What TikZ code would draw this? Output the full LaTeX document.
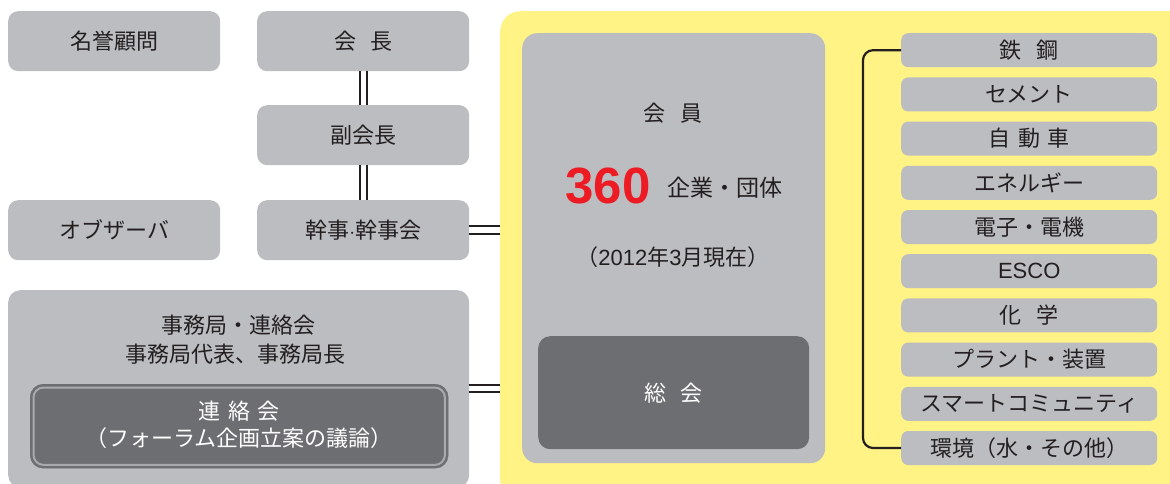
\documentclass[tikz,border=0pt]{standalone}
\usepackage{fontspec}
\setmainfont{Noto Sans CJK JP}
\newfontfamily\numfont{Liberation Sans}
\definecolor{lgray}{HTML}{BCBDC0}
\definecolor{dgray}{HTML}{6D6E71}
\definecolor{ring}{HTML}{A9AAAD}
\definecolor{ylw}{HTML}{FFF385}
\definecolor{tcol}{HTML}{231F20}
\definecolor{redc}{HTML}{ED1C24}
\begin{document}
\begin{tikzpicture}[x=1pt,y=-1pt,
  box/.style={fill=lgray, rounded corners=10pt, inner sep=0pt, text=tcol, anchor=north west,
    font=\fontsize{22}{26}\selectfont},
  topbox/.style={box, minimum width=212pt, minimum height=60pt},
  listbox/.style={box, rounded corners=7pt, minimum width=256pt, minimum height=34pt,
    font=\fontsize{22}{26}\selectfont},
  txt/.style={text=tcol, inner sep=0pt, font=\fontsize{22}{26}\selectfont},
  dbl/.style={line width=1.6pt, draw=tcol},
  brk/.style={line width=2.2pt, draw=tcol, rounded corners=10pt}]
\useasboundingbox (0,0) rectangle (1170,483);
\clip (0,0) rectangle (1170,483);
% left column
\node[topbox] (meiyo) at (8,11) {名誉顧問};
\node[topbox] (kaicho) at (257,11) {会\hspace{0.65em}長};
\node[topbox] (fuku) at (257,105) {副会長};
\node[topbox] (obs) at (8,200) {オブザーバ};
\node[topbox] (kanji) at (257,200) {幹事$\cdot$幹事会};
% lower left
\node[box, rounded corners=12pt, minimum width=461pt, minimum height=197pt] (jimu) at (8,290) {};
\node[txt] (jimu1) at (238,325) {事務局・連絡会};
\node[txt] (jimu2) at (235,354) {事務局代表、事務局長};
\node[fill=dgray, draw=dgray, rounded corners=13pt, minimum width=418pt, minimum height=84pt, anchor=north west, inner sep=0pt] (renraku) at (30,384) {};
\draw[ring, line width=2pt, rounded corners=10pt] ([shift={(3.5,3.5)}]renraku.north west) rectangle ([shift={(-3.5,-3.5)}]renraku.south east);
\node[txt, text=white] (ren1) at (239,411) {連\hspace{0.35em}絡\hspace{0.35em}会};
\node[txt, text=white] (ren2) at (239,438) {（フォーラム企画立案の議論）};
% yellow area
\node[fill=ylw, rounded corners=20pt, minimum width=690pt, minimum height=489pt, anchor=north west, inner sep=0pt] (yellow) at (500,11) {};
\node[fill=lgray, rounded corners=15pt, minimum width=303pt, minimum height=430pt, anchor=north west, inner sep=0pt] (member) at (522,33) {};
\node[txt] (kaiin) at (673,113) {会\hspace{0.65em}員};
\node[text=redc, inner sep=0pt, font=\numfont\bfseries\fontsize{51}{53}\selectfont] (n360) at (608,186) {360};
\node[txt, font=\fontsize{23}{27}\selectfont] (kigyo) at (725,188) {企業・団体};
\node[txt] (date) at (673,257) {（{\numfont 2012}年{\numfont 3}月現在）};
\node[fill=dgray, rounded corners=12pt, minimum width=271pt, minimum height=113pt, anchor=north west, inner sep=0pt, text=white, font=\fontsize{22}{26}\selectfont] (sokai) at (538,336) {総\hspace{0.65em}会};
% list
\node[listbox] (l1) at (901,33) {鉄\hspace{0.7em}鋼};
\node[listbox] (l2) at (901,77.2) {セメント};
\node[listbox] (l3) at (901,121.4) {自\hspace{0.35em}動\hspace{0.35em}車};
\node[listbox] (l4) at (901,165.6) {エネルギー};
\node[listbox] (l5) at (901,209.8) {電子・電機};
\node[listbox] (l6) at (901,254) {{\numfont ESCO}};
\node[listbox] (l7) at (901,298.2) {化\hspace{0.7em}学};
\node[listbox] (l8) at (901,342.4) {プラント・装置};
\node[listbox] (l9) at (901,386.6) {スマートコミュニティ};
\node[listbox] (l10) at (901,430.8) {環境（水・その他）};
% connectors
\draw[dbl] ([xshift=-3.5pt]kaicho.south) -- ([xshift=-3.5pt]fuku.north);
\draw[dbl] ([xshift=3.5pt]kaicho.south) -- ([xshift=3.5pt]fuku.north);
\draw[dbl] ([xshift=-3.5pt]fuku.south) -- ([xshift=-3.5pt]kanji.north);
\draw[dbl] ([xshift=3.5pt]fuku.south) -- ([xshift=3.5pt]kanji.north);
\draw[dbl] ([yshift=4pt]kanji.east) -- ([yshift=4pt]kanji.east -| yellow.west);
\draw[dbl] ([yshift=-3.5pt]kanji.east) -- ([yshift=-3.5pt]kanji.east -| yellow.west);
\draw[dbl] ([yshift=3.5pt]jimu.east) -- ([yshift=3.5pt]jimu.east -| yellow.west);
\draw[dbl] ([yshift=-3.5pt]jimu.east) -- ([yshift=-3.5pt]jimu.east -| yellow.west);
\draw[brk] (l1.west) -- ++(-38,0) |- (l10.west);
\end{tikzpicture}
\end{document}
